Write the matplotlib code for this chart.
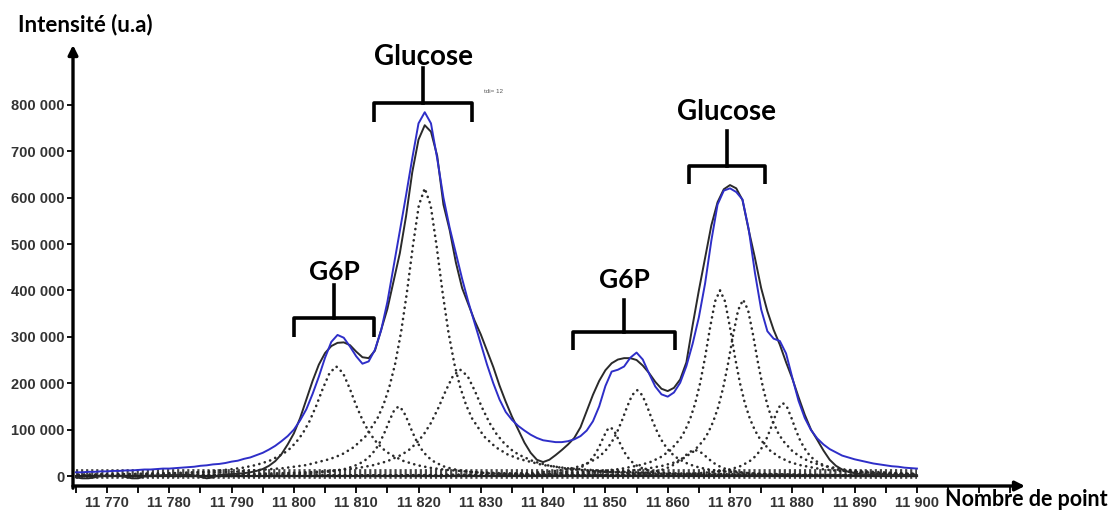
import numpy as np
import matplotlib
matplotlib.use("Agg")
from matplotlib import pyplot as plt
from matplotlib.patches import Rectangle
from matplotlib.ticker import FuncFormatter, MultipleLocator

# point number (x) from 11765 to 11900, one value per point
x_start = 11765
# measured spectrum (black), intensity in thousands
measured = [
    -3, -5, -5, -3, 0, 1, 0, 1, -2, -5,
    -5, -1, 1, 1, 2, 2, 2, 2, 3, 1,
    -2, -5, -3, 2, 3, 4, 5, 6, 8, 11,
    15, 22, 32, 47, 68, 92, 125, 165, 205, 240,
    265, 280, 287, 288, 282, 268, 256, 254, 270, 315,
    360, 420, 480, 560, 655, 725, 756, 742, 690, 585,
    530, 460, 405, 370, 335, 305, 270, 235, 195, 160,
    128, 100, 72, 50, 35, 30, 35, 45, 56, 68,
    82, 105, 140, 175, 205, 228, 243, 251, 254, 254,
    250, 238, 222, 203, 188, 183, 190, 208, 245, 325,
    400, 470, 540, 590, 618, 627, 620, 595, 530, 470,
    405, 355, 315, 283, 245, 210, 170, 132, 100, 78,
    55, 35, 22, 14, 9, 6, 4, 3, 3, 2,
    2, 2, 2, 2, 2, 2,
]
# fitted spectrum (blue), intensity in thousands
fitted = [
    8, 8, 9, 9, 10, 10, 11, 11, 12, 12,
    13, 14, 14, 15, 16, 16, 17, 18, 19, 20,
    22, 23, 25, 26, 28, 31, 33, 37, 40, 45,
    50, 57, 65, 75, 86, 100, 120, 144, 177, 214,
    255, 289, 304, 298, 279, 258, 242, 247, 272, 314,
    375, 451, 528, 605, 685, 760, 784, 760, 684, 600,
    535, 480, 425, 375, 330, 285, 240, 200, 165, 138,
    121, 108, 98, 89, 82, 77, 75, 73, 73, 75,
    79, 86, 98, 118, 150, 194, 225, 229, 236, 255,
    266, 251, 221, 193, 176, 171, 180, 201, 237, 285,
    342, 415, 507, 585, 615, 620, 612, 596, 532, 438,
    359, 312, 296, 291, 264, 212, 162, 125, 99, 81,
    68, 58, 51, 44, 40, 36, 33, 30, 27, 25,
    23, 21, 20, 18, 17, 16,
]

# deconvolved components (dotted): centre, height (thousands), half width
comp_center = [11806.8, 11816.8, 11821.0, 11826.7, 11850.8,
               11855.1, 11864.4, 11868.4, 11872.1, 11878.5]
comp_height = [236, 150, 620, 229, 105, 185, 56, 400, 380, 157]
comp_width = [4.3, 2.9, 3.8, 4.7, 2.2, 3.3, 3.0, 3.2, 3.2, 2.7]
# line shape of one component
shape_u = [0, 0.25, 0.5, 0.75, 1, 1.25, 1.5, 1.75, 2, 2.5, 3, 3.5,
           4, 5, 6, 8, 10, 14, 20, 30, 45]
shape_f = [1, .941, .8, .64, .5, .39, .308, .246, .2, .138, .1, .075,
           .059, .038, .027, .015, .0099, .0051, .0025, .0011, .0005]
# residual baseline band (thousands)
band_x = [11765, 11900]
band_y = [4, 4]

# labels and brace annotations: text, x left, x right, bar, ends, tip, text y, size
braces = [
    ("Glucose", 11812.9, 11828.6, 804, 763, 879, 903, 20),
    ("G6P", 11800.0, 11812.9, 340, 300, 412, 440, 19),
    ("G6P", 11844.8, 11861.2, 310, 272, 379, 422, 19),
    ("Glucose", 11863.4, 11875.6, 668, 629, 743, 784, 20),
]

plt.rcParams['font.family'] = ['Liberation Sans', 'DejaVu Sans']

fig = plt.figure(figsize=(11.2, 5.15), dpi=100)
ax = fig.add_axes([73 / 1120, 29 / 515, 952 / 1120, 441 / 515])

xs = x_start + np.arange(len(measured))
u = np.concatenate([-np.array(shape_u[::-1]), np.array(shape_u[1:])])
f = np.concatenate([np.array(shape_f[::-1]), np.array(shape_f[1:])])

# components only exist over the measured range
clip = Rectangle((xs[0], -50000), xs[-1] - xs[0], 1e6, transform=ax.transData,
                 visible=False)
ax.add_patch(clip)

dot_style = dict(color='#2b2b2b', lw=1.9, linestyle=(0, (0.05, 2.1)),
                 dash_capstyle='round')
for c, h, w in zip(comp_center, comp_height, comp_width):
    ln, = ax.plot(c + w * u, h * 1000 * f, **dot_style)
    ln.set_clip_path(clip)
# dense hatched band formed by all the component tails
ax.plot(band_x, np.array(band_y) * 1000, color='#222222', lw=7,
        linestyle=(0, (0.22, 0.3)), alpha=0.85)
ax.plot(band_x, [0, 0], color='#222222', lw=1.6)

ax.plot(xs, np.array(measured) * 1000, color='#2a2a2a', lw=1.4)
ax.plot(xs, np.array(fitted) * 1000, color='#2e2ec8', lw=1.4)

ax.set_xlim(11764.54, 11917.35)
ax.set_ylim(-21550, 928900)

for s in ax.spines.values():
    s.set_visible(False)
arrow = dict(arrowstyle='-|>', lw=2.4, color='black', mutation_scale=14,
             shrinkA=0, shrinkB=0)
ax.annotate('', xy=(1, 0), xytext=(0, 0), xycoords='axes fraction', arrowprops=arrow)
ax.annotate('', xy=(0, 1), xytext=(0, -0.005), xycoords='axes fraction', arrowprops=arrow)

ax.xaxis.set_minor_locator(MultipleLocator(5))
ax.set_xticks(np.arange(11770, 11901, 10))
ax.set_yticks(np.arange(0, 800001, 100000))
fmt = FuncFormatter(lambda v, p: f"{int(round(v)):,}".replace(',', ' '))
ax.xaxis.set_major_formatter(fmt)
ax.yaxis.set_major_formatter(fmt)
ax.tick_params(axis='both', which='both', direction='out', width=1.3, color='black')
ax.tick_params(axis='x', which='both', length=5, pad=2)
ax.tick_params(axis='y', length=4, pad=2)
for lab in ax.get_xticklabels() + ax.get_yticklabels():
    lab.set_fontsize(10.5)
    lab.set_fontweight('bold')
    lab.set_color('#333333')

for text, x0, x1, ybar, yend, ytip, ytext, size in braces:
    xc = (x0 + x1) / 2
    ax.plot([x0, x0, x1, x1], [yend * 1000, ybar * 1000, ybar * 1000, yend * 1000],
            color='black', lw=2.6, solid_joinstyle='round', solid_capstyle='butt',
            clip_on=False)
    ax.plot([xc, xc], [ybar * 1000, ytip * 1000], color='black', lw=2.6,
            clip_on=False)
    ax.text(xc, ytext * 1000, text, ha='center', va='center', fontsize=size,
            fontweight='bold', family='Lato')

ax.text(11832.0, 828000, "tdi= 12", fontsize=4.5, color='#555555',
        ha='center', va='center')

fig.text(18 / 1120, 1 - 25 / 515, "Intensité (u.a)", fontsize=16,
         fontweight='bold', family='Lato', ha='left', va='center')
fig.text(945 / 1120, 1 - 500 / 515, "Nombre de point", fontsize=15.5,
         fontweight='bold', family='Lato', ha='left', va='center')

fig.savefig('out.png', dpi=100)
